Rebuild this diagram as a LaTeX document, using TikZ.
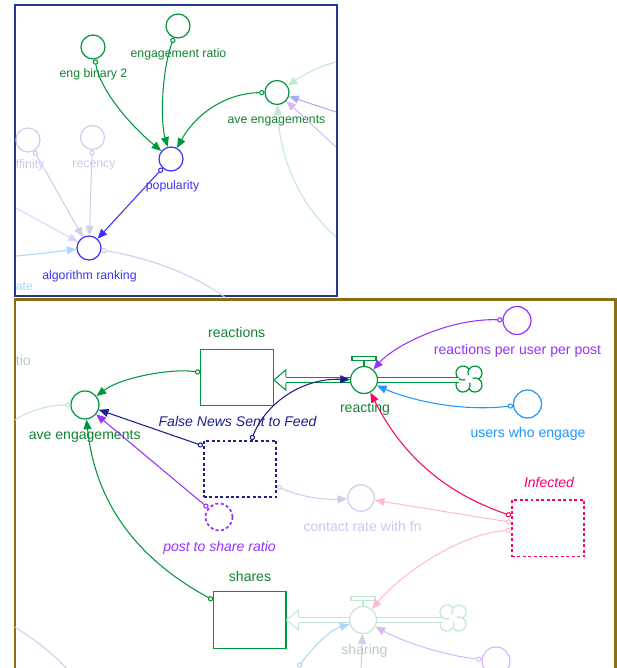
\documentclass[tikz,border=0pt]{standalone}
\usepackage{fontspec}
\setmainfont{Liberation Sans}
\usetikzlibrary{arrows.meta, calc}

\definecolor{vgreen}{RGB}{0,150,60}
\definecolor{tgreen}{RGB}{20,130,50}
\definecolor{vblue}{RGB}{60,50,245}
\definecolor{vnavy}{RGB}{30,30,140}
\definecolor{vpurple}{RGB}{150,50,255}
\definecolor{vsky}{RGB}{30,150,255}
\definecolor{vred}{RGB}{255,0,100}
\definecolor{fgreen}{RGB}{195,232,210}
\definecolor{flav}{RGB}{205,205,240}
\definecolor{fpink}{RGB}{255,185,215}
\definecolor{fsky}{RGB}{170,215,250}
\definecolor{fpurple}{RGB}{215,185,250}
\definecolor{ftext}{RGB}{200,200,238}
\definecolor{topframe}{RGB}{35,55,140}
\definecolor{botframe}{RGB}{140,110,20}

\tikzstyle{arrow} = [line width=0.6pt, -{Triangle[length=5.5pt,width=4.5pt]}]
\tikzstyle{conn} = [line width=0.6pt, {Circle[open,length=3pt,width=3pt]}-{Triangle[length=5.5pt,width=4.5pt]}]
\tikzstyle{tailonly} = [line width=0.6pt, {Circle[open,length=3pt,width=3pt]}-]
\tikzstyle{auxs} = [circle, minimum size=0.48cm, inner sep=0pt, line width=0.7pt]
\tikzstyle{auxb} = [circle, minimum size=0.56cm, inner sep=0pt, line width=0.7pt]
\tikzstyle{valve} = [circle, minimum size=0.54cm, inner sep=0pt, line width=0.7pt, fill=white]
\tikzstyle{stock} = [rectangle, minimum width=1.45cm, minimum height=1.13cm, inner sep=0pt, line width=0.7pt]
\tikzstyle{dotline} = [dash pattern=on 1.7pt off 1.4pt, line width=1pt]
\tikzstyle{sink} = [circle, minimum size=11pt, inner sep=0pt]
\tikzstyle{pipe} = [line width=0.6pt, double=white, double distance=2.25pt]
\tikzstyle{lbltop} = [inner sep=0pt, text height=5pt, text depth=1.5pt, font=\fontsize{7}{8}\selectfont]
\tikzstyle{lblbot} = [inner sep=0pt, text height=5.8pt, text depth=1.7pt, font=\fontsize{8}{9}\selectfont]

% open flow arrowhead, tip at #2
\newcommand{\flowhead}[2]{\draw[#1, line width=0.6pt] ($(#2)+(12,-2.8)$) -- ++(0,-7.2) -- (#2) -- ++(12,10) -- ++(0,-7.2);}
% four-lobed cloud round node #2
\newcommand{\cloudmark}[2]{%
  \begin{scope}[shift={(#2.center)}, x=1pt, y=1pt, draw=#1, line width=0.7pt]
    \draw[fill=white] (0,5.5) arc[start angle=148.3, end angle=-58.3, radius=4]
      arc[start angle=58.3, end angle=-148.3, radius=4]
      arc[start angle=-31.7, end angle=-238.3, radius=4]
      arc[start angle=-121.7, end angle=-328.3, radius=4] -- cycle;
    \foreach \a in {0,90,180,270}
      \draw (45-\a:4.808) ++(198.3-\a:4) arc[start angle=198.3-\a, end angle=148.3-\a, radius=4];
  \end{scope}}

\begin{document}
\begin{tikzpicture}[x=0.02cm, y=-0.02cm]
\clip (0,0) rectangle (617,668);

% panel frames
\draw[topframe, line width=1.2pt] (15,5) rectangle (337,296);
\draw[botframe, line width=1.2pt] (15,680) -- (15,299.5) -- (615.5,299.5) -- (615.5,680);

% ---------- top view ----------
\node[auxs, draw=vgreen] (engbin) at (93,47) {};
\node[auxs, draw=vgreen] (engratio) at (178,26) {};
\node[auxs, draw=vgreen] (aveTop) at (277,92.5) {};
\node[auxs, draw=vblue] (popularity) at (171,159) {};
\node[auxs, draw=vblue] (algrank) at (89,248) {};
\node[auxs, draw=flav] (affinity) at (28,140) {};
\node[auxs, draw=flav] (recency) at (92.5,137.5) {};

\node[lbltop, text=tgreen] (engbinlbl) at (93.5,74) {eng binary 2};
\node[lbltop, text=tgreen] (engratiolbl) at (178.5,54.5) {engagement ratio};
\node[lbltop, text=tgreen] (aveToplbl) at (276.5,120.5) {ave engagements};
\node[lbltop, text=vblue] (popularitylbl) at (172.5,186) {popularity};
\node[lbltop, text=vblue] (algranklbl) at (89.5,276) {algorithm ranking};
\node[lbltop, text=ftext, anchor=west] (affinitylbl) at (15.5,165) {ffinity};
\node[lbltop, text=ftext] (recencylbl) at (94,164) {recency};
\node[lbltop, text=fsky, anchor=west] (ratelbl) at (15.5,287) {ate};

\coordinate (leftA) at (16,208);
\coordinate (leftB) at (16,256);
\coordinate (offA) at (226,298);
\coordinate (rightA) at (336,62);
\coordinate (rightB) at (336,112);
\coordinate (rightC) at (336,147);
\coordinate (rightD) at (336,237);

\draw[conn, flav] (affinity) -- (algrank);
\draw[conn, flav] (recency) -- (algrank);
\draw[arrow, fpurple!70] (leftA) -- (algrank);
\draw[arrow, fsky] (leftB) .. controls (40,254) and (60,251) .. (algrank);
\draw[tailonly, flav] (algrank) .. controls (150,258) and (195,275) .. (offA);
\draw[arrow, fgreen] (rightA) .. controls (320,66) and (305,74) .. (aveTop);
\draw[arrow, flav!80!blue!90] (rightB) -- (aveTop);
\draw[arrow, fpurple] (rightC) -- (aveTop);
\draw[arrow, fgreen] (rightD) .. controls (300,205) and (280,160) .. (aveTop);

\draw[conn, vgreen] (engbin) .. controls (100,90) and (130,125) .. (popularity);
\draw[conn, vgreen] (engratio) .. controls (162,70) and (160,120) .. (popularity);
\draw[conn, vgreen] (aveTop) .. controls (225,93) and (195,115) .. (popularity);
\draw[conn, vblue] (popularity) -- (algrank);

% ---------- bottom view ----------
\node[stock, draw=vgreen] (reactions) at (237,377.5) {};
\node[auxb, draw=vgreen] (aveBot) at (85,405) {};
\node[valve, draw=vgreen] (reacting) at (364,380) {};
\node[sink] (cloudA) at (469,379) {};
\node[auxb, draw=vpurple] (rppp) at (517,320.5) {};
\node[auxb, draw=vsky] (users) at (527.5,404) {};
\node[stock, dotline, draw=vnavy] (falseNews) at (240,469) {};
\node[auxb, dotline, draw=vpurple, minimum size=0.54cm] (ratio) at (219,517) {};
\node[stock, draw=vgreen] (shares) at (249.7,620) {};
\node[stock, dotline, draw=vred] (infected) at (548,528.3) {};
\node[auxb, draw=flav, minimum size=0.53cm] (contact) at (361,498) {};
\node[valve, draw=fgreen] (sharing) at (363,620) {};
\node[sink] (cloudB) at (453,618) {};
\node[auxb, draw=fpurple] (fcirc) at (496,661) {};

\node[lblbot, text=tgreen] (reactionslbl) at (236.7,334) {reactions};
\node[lblbot, text=tgreen] (aveBotlbl) at (84.7,436) {ave engagements};
\node[lblbot, text=tgreen] (reactinglbl) at (365,409) {reacting};
\node[lblbot, text=vpurple] (rpppllbl) at (517.5,351) {reactions per user per post};
\node[lblbot, text=vsky] (userslbl) at (528,434) {users who engage};
\node[lblbot, text=vnavy, font=\fontsize{8}{9}\selectfont\itshape] (falseNewslbl) at (237.5,423) {False News Sent to Feed};
\node[lblbot, text=vpurple, font=\fontsize{8}{9}\selectfont\itshape] (ratiolbl) at (219.5,548) {post to share ratio};
\node[lblbot, text=tgreen] (shareslbl) at (250,577.5) {shares};
\node[lblbot, text=vred, font=\fontsize{8}{9}\selectfont\itshape] (infectedlbl) at (549,484) {Infected};
\node[lblbot, text=ftext] (contactlbl) at (362.5,528) {contact rate with fn};
\node[lblbot, text=fgreen!90!black] (sharinglbl) at (364.5,651) {sharing};
\node[lblbot, text=fgreen!90!black, anchor=west] (tiolbl) at (15.5,362) {tio};

% valve tops and clouds
\draw[vgreen, line width=0.6pt] (reacting.north) -- ++(0,-5.5) ++(-12,0) rectangle ++(24,-4);
\draw[fgreen, line width=0.6pt] (sharing.north) -- ++(0,-5) ++(-12,0) rectangle ++(24,-4);
\cloudmark{vgreen}{cloudA}
\cloudmark{fgreen}{cloudB}

% pipes
\coordinate (rtip) at (reacting.west -| reactions.east);
\draw[pipe, draw=vgreen] (reacting.west) -- ($(rtip)+(12,0)$);
\flowhead{vgreen}{rtip}
\draw[pipe, draw=vgreen] (reacting.east) -- (reacting.east -| cloudA.west);
\coordinate (stip) at (sharing.west -| shares.east);
\draw[pipe, draw=fgreen] (sharing.west) -- ($(stip)+(12,0)$);
\flowhead{fgreen}{stip}
\draw[pipe, draw=fgreen] (sharing.east) -- (sharing.east -| cloudB.west);

% faded links
\coordinate (leftC) at (15,420);
\coordinate (leftD) at (15,627);
\coordinate (offB) at (68,670);
\coordinate (botA) at (298,667);
\coordinate (botB) at (361,670);
\draw[tailonly, fgreen] (aveBot) .. controls (50,405) and (30,410) .. (leftC);
\draw[flav, line width=0.6pt] (leftD) .. controls (35,640) and (55,655) .. (offB);
\draw[conn, flav] (falseNews.-25) .. controls (300,497) and (325,500) .. (contact);
\draw[conn, fpink] (infected) -- (contact);
\draw[conn, fpink] (infected) .. controls (460,533) and (400,575) .. (sharing);
\draw[conn, fsky] (botA) .. controls (315,645) and (330,630) .. (sharing);
\draw[arrow, flav] (botB) -- (sharing);
\draw[conn, fpurple] (fcirc) .. controls (440,655) and (400,640) .. (sharing);

% main links
\draw[conn, vgreen] (reactions) .. controls (170,368) and (120,378) .. (aveBot);
\draw[conn, vnavy] (falseNews.148) -- (aveBot);
\draw[conn, vnavy] (falseNews) .. controls (265,405) and (300,378) .. (reacting);
\draw[conn, vpurple] (ratio) -- (aveBot);
\draw[conn, vgreen] (shares) .. controls (143,562) and (96,509) .. (aveBot);
\draw[conn, vpurple] (rppp) .. controls (450,318) and (395,345) .. (reacting);
\draw[conn, vsky] (users) .. controls (460,412) and (410,400) .. (reacting);
\draw[conn, vred] (infected) .. controls (442,492) and (401,453) .. (reacting);
\end{tikzpicture}
\end{document}
